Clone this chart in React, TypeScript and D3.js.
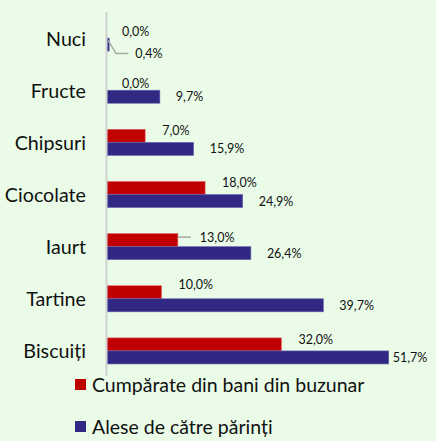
import React from "react";
import * as d3 from "d3";

const categories = ["Nuci", "Fructe", "Chipsuri", "Ciocolate", "Iaurt", "Tartine", "Biscuiți"];
const pocketMoney = [0.0, 0.0, 7.0, 18.0, 13.0, 10.0, 32.0];
const parentsChoice = [0.4, 9.7, 15.9, 24.9, 26.4, 39.7, 51.7];
const seriesNames = ["Cumpărate din bani din buzunar", "Alese de către părinți"];
const seriesKeys = ["red", "blue"];

const W = 436;
const H = 441;
const COLORS: Record<string, string> = { red: "#C00000", blue: "#302883" };
const BG = "#EAFCE8";
const FONT = "Lato, 'Open Sans', sans-serif";

// label placement tweaks (styling, not data)
const labelTweaks: Record<string, { dx?: number; dy?: number; leader?: number[][] }> = {
  "Nuci|red": { dx: 15, dy: 0 },
  "Fructe|red": { dx: 15, dy: 0 },
  "Tartine|red": { dy: -8 },
  "Iaurt|red": { dx: 22, dy: -2.5, leader: [[0, -3], [13, -3]] },
  "Biscuiți|blue": { dx: 4 },
  "Nuci|blue": { dx: 26, dy: 9, leader: [[-1, -4], [7, 9], [19, 9]] },
};

export default function App() {
  const x = d3.scaleLinear().domain([0, 60]).range([107, 434]);
  const y = d3.scaleBand().domain(categories).range([12, 377]).paddingInner(0.5).paddingOuter(0.25);
  const ys = d3.scaleBand().domain(seriesKeys).range([0, y.bandwidth()]);
  const fmt = (v: number) => v.toFixed(1).replace(".", ",") + "%";

  const rows = categories.map((c, i) => ({ c, red: pocketMoney[i], blue: parentsChoice[i] }));

  return (
    <svg width={W} height={H} style={{ position: "absolute", left: 0, top: 0, background: BG }}>
      <rect x={0} y={0} width={W} height={H} fill={BG} />
      {rows.map((r) => (
        <g key={r.c}>
          <text
            x={86}
            y={(y(r.c) as number) + y.bandwidth() / 2}
            textAnchor="end"
            dominantBaseline="central"
            fontFamily={FONT}
            fontSize={19.7}
            fill="#111"
          >
            {r.c}
          </text>
          {seriesKeys.map((k) => {
            const v = (r as any)[k] as number;
            const by = (y(r.c) as number) + (ys(k) as number);
            const bh = ys.bandwidth();
            const xe = x(v);
            const cy = by + bh / 2;
            const tw = labelTweaks[`${r.c}|${k}`] || {};
            const dx = tw.dx ?? (k === "red" ? 17 : 16);
            const dy = tw.dy ?? (k === "red" ? -5 : 0);
            return (
              <g key={k}>
                {v > 0 && (
                  <rect
                    x={x(0)}
                    y={by}
                    width={xe - x(0)}
                    height={bh}
                    fill={COLORS[k]}
                    stroke={k === "red" ? "#E06060" : "#6A64B0"}
                    strokeWidth={0.6}
                  />
                )}
                {tw.leader && (
                  <polyline
                    points={tw.leader.map((p) => `${xe + p[0]},${cy + p[1]}`).join(" ")}
                    fill="none"
                    stroke="#A6A6A6"
                    strokeWidth={1.5}
                  />
                )}
                <text
                  x={xe + dx}
                  y={cy + dy}
                  dominantBaseline="central"
                  fontFamily={FONT}
                  fontSize={12.5}
                  fill="#111"
                >
                  {fmt(v)}
                </text>
              </g>
            );
          })}
        </g>
      ))}
      <line x1={x(0) - 0.5} x2={x(0) - 0.5} y1={12} y2={376} stroke="#D0D0D0" strokeWidth={2} />
      {seriesKeys.map((k, i) => (
        <g key={k} transform={`translate(75, ${379 + i * 42})`}>
          <rect x={0} y={0} width={11} height={11} fill={COLORS[k]} />
          <text x={17} y={5.5} dominantBaseline="central" fontFamily={FONT} fontSize={19.5} fill="#111">
            {seriesNames[i]}
          </text>
        </g>
      ))}
    </svg>
  );
}
